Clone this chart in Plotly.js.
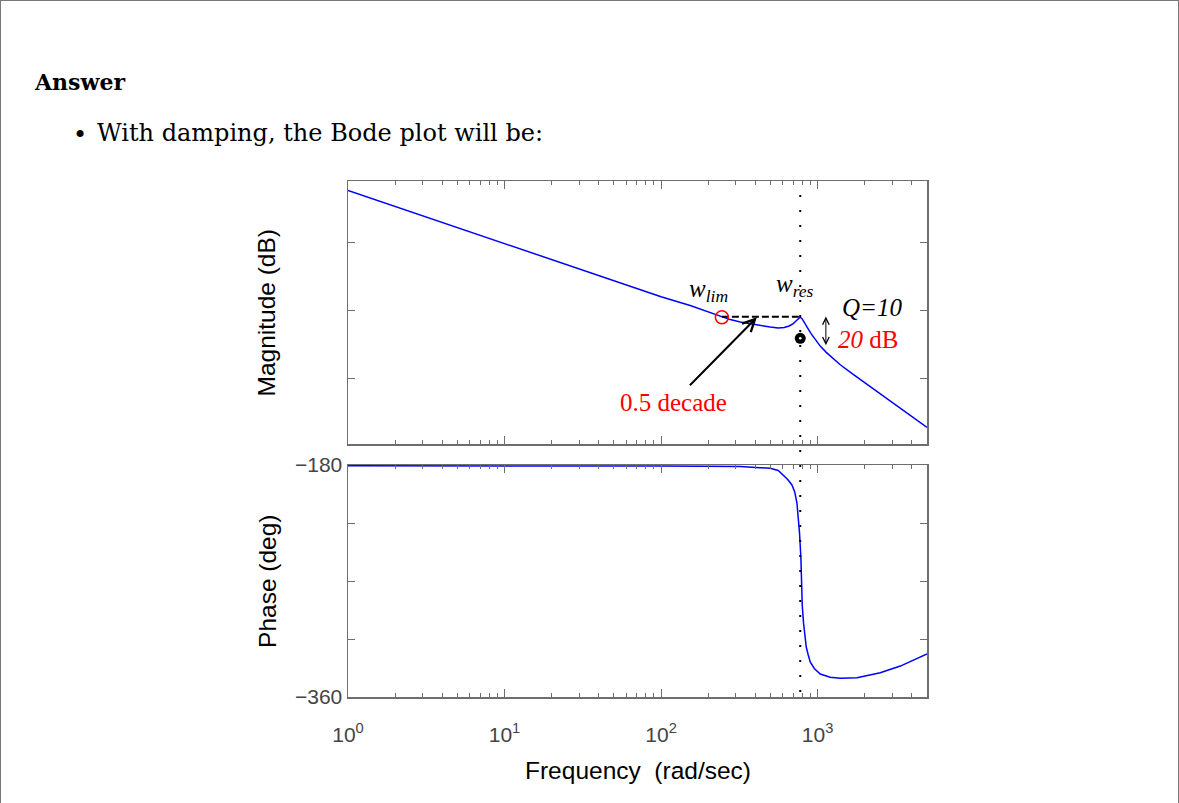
<!DOCTYPE html>
<html><head><meta charset="utf-8">
<script src="https://cdn.plot.ly/plotly-3.0.1.min.js"></script>
<style>
html,body{margin:0;padding:0;background:#fff;}
#wrap{position:relative;width:1179px;height:803px;overflow:hidden;}
#chart{width:1179px;height:803px;}
#frame{position:absolute;left:0;top:0;width:1177px;height:803px;border-left:1px solid #777;border-top:1px solid #777;border-right:1px solid #777;pointer-events:none;}
</style></head><body>
<div id="wrap"><div id="chart"></div><div id="frame"></div></div>
<script>
// Magnitude curve (rad/s, dB)
const magFreq = [1, 10, 100, 153.5, 191.4, 244.7, 276.5, 320.3, 371.1, 429.9, 498.2, 560.4, 612.2, 658.9, 698.9, 730.4, 757.8, 774.8, 797.9, 821.7, 846.2, 878.0, 910.8, 966.0, 1039.7, 1135.9, 1240.9, 1395.7, 1697.5, 2278.7, 3058.8, 4106, 5000];
const magDb   = [-11.8, -50.9, -90.0, -96.5, -100.2, -104.9, -106.8, -108.5, -109.9, -111.2, -112.3, -112.9, -112.6, -111.5, -109.7, -107.7, -105.9, -105.1, -106.3, -108.5, -111.2, -114.3, -117.3, -121.5, -126.3, -130.9, -135.0, -140.0, -147.3, -157.9, -168.5, -178.9, -186.0];
// Phase curve (rad/s, deg)
const phaseFreq = [1, 10, 100, 320.3, 429.9, 498.2, 560.4, 603.2, 644.5, 685.7, 714.4, 738.0, 754.4, 766.7, 782.3, 786.3, 797.9, 813.2, 827.8, 846.2, 871.6, 897.4, 952, 1039.7, 1204, 1395.7, 1784.5, 2514.4, 3376, 4876, 5000];
const phaseDeg  = [-180.6, -180.6, -180.8, -181.2, -181.8, -182.6, -184.3, -187.8, -191.3, -195.5, -200.9, -209.5, -220.3, -232.8, -252.2, -271.6, -288.7, -302.6, -313.4, -321.2, -327.4, -332.8, -337.9, -342.2, -344.7, -345.5, -345.0, -341.2, -336.0, -327.4, -326.6];
// Marked points
const wLim = 244.7, magLim = -105.1;
const wRes = 774.8, peakDb = -104.7, dotDb = -120.6;
// Tick labels
const xTickVals = [1, 10, 100, 1000];
const xTickText = ['10<sup>0</sup>', '10<sup>1</sup>', '10<sup>2</sup>', '10<sup>3</sup>'];
const magTickVals = [-150, -100, -50];
const phTickVals = [-360, -180];
const phTickText = ['\u2212360', '\u2212180'];
const phMinorVals = [-315, -270, -225];

const blue = '#0000ff';
const axCol = '#6e6e6e';
const sans = 'Liberation Sans, Arial, sans-serif';
const serif = 'Liberation Serif, Times New Roman, serif';

const traces = [
  {x: magFreq, y: magDb, xaxis: 'x', yaxis: 'y', mode: 'lines', line: {color: blue, width: 1.5}, hoverinfo: 'skip'},
  {x: [wLim, wRes], y: [peakDb, peakDb], xaxis: 'x', yaxis: 'y', mode: 'lines', line: {color: '#000', width: 2, dash: '7px,3px'}, hoverinfo: 'skip'},
  {x: [wLim], y: [magLim], xaxis: 'x', yaxis: 'y', mode: 'markers', marker: {symbol: 'circle-open', size: 13, color: 'red', line: {width: 1.5, color: 'red'}}, hoverinfo: 'skip'},
  {x: [wRes], y: [dotDb], xaxis: 'x', yaxis: 'y', mode: 'markers', marker: {symbol: 'circle', size: 11, color: '#000'}, hoverinfo: 'skip'},
  {x: [wRes], y: [dotDb], xaxis: 'x', yaxis: 'y', mode: 'markers', marker: {symbol: 'circle', size: 2.5, color: '#fff'}, hoverinfo: 'skip'},
  {x: phaseFreq, y: phaseDeg, xaxis: 'x2', yaxis: 'y2', mode: 'lines', line: {color: blue, width: 1.5}, hoverinfo: 'skip'}
];

const xBase = {
  type: 'log', range: [0, Math.log10(5000)], tickvals: xTickVals, ticktext: xTickText,
  ticks: 'inside', ticklen: 8, tickwidth: 1, tickcolor: axCol,
  minor: {ticks: 'inside', ticklen: 4, dtick: 'D1', tickcolor: axCol, tickwidth: 1},
  showline: true, linecolor: axCol, linewidth: 1.5, mirror: 'ticks',
  showgrid: false, zeroline: false,
  tickfont: {family: sans, size: 21, color: '#444'}
};

const layout = {
  width: 1179, height: 803,
  margin: {l: 348, r: 252, t: 181, b: 106},
  paper_bgcolor: '#fff', plot_bgcolor: '#fff',
  showlegend: false,
  xaxis: Object.assign({}, xBase, {anchor: 'y', domain: [0, 1], showticklabels: false}),
  xaxis2: Object.assign({}, xBase, {anchor: 'y2', domain: [0, 1], showticklabels: true, ticklabelstandoff: 18}),
  yaxis: {domain: [0.4897, 1], range: [-198.5, -4.9], tickvals: magTickVals, showticklabels: false,
    ticks: 'inside', ticklen: 7, tickcolor: axCol, showline: true, linecolor: axCol, linewidth: 1.5,
    mirror: 'ticks', showgrid: false, zeroline: false},
  yaxis2: {domain: [0, 0.4496], range: [-360, -180], tickvals: phTickVals, ticktext: phTickText,
    minor: {tickvals: phMinorVals, ticks: 'inside', ticklen: 7, tickcolor: axCol, tickwidth: 1},
    ticks: 'inside', ticklen: 7, tickcolor: axCol, showline: true, linecolor: axCol, linewidth: 1.5,
    mirror: 'ticks', showgrid: false, zeroline: false,
    tickfont: {family: sans, size: 21, color: '#444'}},
  shapes: [
    {type: 'line', xref: 'x', yref: 'paper', x0: wRes, x1: wRes, y0: 0.0097, y1: 0.975,
     line: {color: '#000', width: 2, dash: '2px,13px'}}
  ],
  annotations: [
    {xref: 'paper', yref: 'paper', x: -0.5461, y: 1.1919, xanchor: 'left', yanchor: 'middle', showarrow: false,
     text: '<b>Answer</b>', font: {family: 'DejaVu Serif, serif', size: 22, color: '#000'}},
    {xref: 'paper', yref: 'paper', x: -0.4631, y: 1.0891, xanchor: 'center', yanchor: 'middle', showarrow: false,
     text: '\u2022', font: {family: 'DejaVu Serif, serif', size: 24, color: '#000'}},
    {xref: 'paper', yref: 'paper', x: -0.4372, y: 1.093, xanchor: 'left', yanchor: 'middle', showarrow: false,
     text: 'With damping, the Bode plot will be:', font: {family: 'DejaVu Serif, serif', size: 24, color: '#000'}},
    {xref: 'paper', yref: 'paper', x: -0.14, y: 0.745, xanchor: 'center', yanchor: 'middle', showarrow: false,
     textangle: -90, text: 'Magnitude (dB)', font: {family: sans, size: 24.5, color: '#000'}},
    {xref: 'paper', yref: 'paper', x: -0.14, y: 0.2248, xanchor: 'center', yanchor: 'middle', showarrow: false,
     textangle: -90, text: 'Phase (deg)', font: {family: sans, size: 24.5, color: '#000'}},
    {xref: 'paper', yref: 'paper', x: 0.5, y: -0.1415, xanchor: 'center', yanchor: 'middle', showarrow: false,
     text: 'Frequency\u00a0 (rad/sec)', font: {family: sans, size: 24.5, color: '#000'}},
    {xref: 'x', yref: 'y', x: 2.301, y: -85.1, showarrow: false, text: '<i>w<sub>lim</sub></i>',
     font: {family: serif, size: 25, color: '#000'}},
    {xref: 'x', yref: 'y', x: 2.857, y: -81.4, showarrow: false, text: '<i>w<sub>res</sub></i>',
     font: {family: serif, size: 25, color: '#000'}},
    {xref: 'x', yref: 'y', x: 3.349, y: -97.6, showarrow: false, text: '<i>Q=10</i>',
     font: {family: serif, size: 25, color: '#000'}},
    {xref: 'x', yref: 'y', x: 3.324, y: -121.1, showarrow: false, text: '<i>20</i> dB',
     font: {family: serif, size: 25, color: 'red'}},
    {xref: 'x', yref: 'y', x: 2.077, y: -167.4, showarrow: false, text: '0.5 decade',
     font: {family: serif, size: 25, color: 'red'}},
    {xref: 'x', yref: 'y', x: 2.612, y: -105.1, axref: 'x', ayref: 'y', ax: 2.175, ay: -156.2,
     showarrow: true, text: '', arrowhead: 5, arrowsize: 1.2, arrowwidth: 2, arrowcolor: '#000', standoff: 0},
    {xref: 'x', yref: 'y', x: 3.053, y: -104.6, axref: 'x', ayref: 'y', ax: 3.053, ay: -126.7,
     showarrow: true, text: '', arrowhead: 5, arrowside: 'end+start', arrowsize: 1.3, arrowwidth: 1, arrowcolor: '#000', standoff: 0, startstandoff: 0}
  ]
};

Plotly.newPlot('chart', traces, layout, {displayModeBar: false, staticPlot: true});
</script>
</body></html>
